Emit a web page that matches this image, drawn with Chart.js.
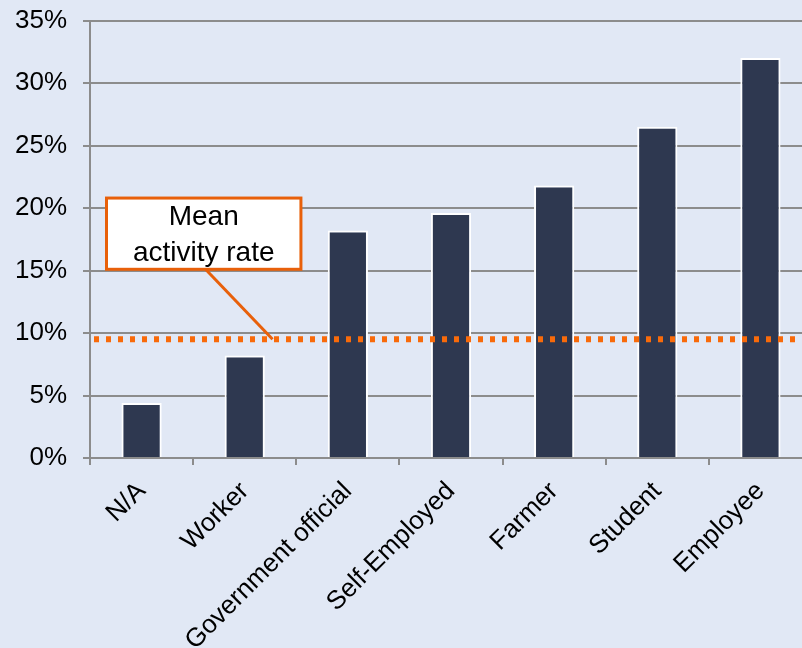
<!DOCTYPE html>
<html>
<head>
<meta charset="utf-8">
<script src="https://cdn.jsdelivr.net/npm/chart.js@4/dist/chart.umd.min.js"></script>
<style>
  html, body { margin: 0; padding: 0; overflow: hidden; background: #E1E8F5; }
  .wrap { position: relative; top: -11px; width: 812px; height: 659px; }
</style>
</head>
<body>
<div class="wrap"><canvas id="myChart"></canvas></div>
<script>
// data
const categories = ["N/A", "Worker", "Government official", "Self-Employed", "Farmer", "Student", "Employee"];
const activityRate = [4.4, 8.2, 18.2, 19.6, 21.8, 26.5, 32.0];
const meanRate = 9.5;
const yTicks = [0, 5, 10, 15, 20, 25, 30, 35];
const noteLines = ["Mean", "activity rate"];

const FONT = "'Liberation Sans', Arial, sans-serif";
const ORANGE = "#F86A0A";

// mean line + call-out box, placed in data units via the scales
const meanPlugin = {
  id: "meanLine",
  afterDatasetsDraw(chart) {
    const { ctx, chartArea, scales } = chart;
    const x = scales.x, y = scales.y;
    const yMean = y.getPixelForValue(meanRate);

    ctx.save();
    // dotted mean line
    ctx.strokeStyle = ORANGE;
    ctx.lineWidth = 6;
    ctx.setLineDash([5, 7]);
    ctx.beginPath();
    ctx.moveTo(chartArea.left + 4, yMean);
    ctx.lineTo(chartArea.right, yMean);
    ctx.stroke();
    ctx.setLineDash([]);

    // box
    const bl = x.getPixelForValue(-0.34), br = x.getPixelForValue(1.545);
    const bt = y.getPixelForValue(20.8), bb = y.getPixelForValue(15.1);

    // connector
    ctx.strokeStyle = "#E8600A";
    ctx.lineWidth = 3;
    ctx.beginPath();
    ctx.moveTo(x.getPixelForValue(0.62), bb);
    ctx.lineTo(x.getPixelForValue(1.27), yMean);
    ctx.stroke();

    ctx.fillStyle = "#ffffff";
    ctx.fillRect(bl, bt, br - bl, bb - bt);
    ctx.lineWidth = 3;
    ctx.strokeRect(bl, bt, br - bl, bb - bt);

    ctx.fillStyle = "#000";
    ctx.font = "28px " + FONT;
    ctx.textAlign = "center";
    ctx.textBaseline = "middle";
    const cx = (bl + br) / 2;
    const h = bb - bt;
    ctx.fillText(noteLines[0], cx, bt + h * 0.27);
    ctx.fillText(noteLines[1], cx, bt + h * 0.77);
    ctx.restore();
  }
};

const ctx = document.getElementById("myChart").getContext("2d");
const myChart = new Chart(ctx, {
  type: "bar",
  data: {
    labels: categories,
    datasets: [
      {
        label: "Activity rate",
        data: activityRate,
        backgroundColor: "#2E3850",
        borderColor: "#ffffff",
        borderWidth: 2,
        barPercentage: 0.39,
        categoryPercentage: 1,
      },
    ],
  },
  options: {
    responsive: true,
    maintainAspectRatio: false,
    animation: false,
    layout: { padding: { top: 11, right: 0, bottom: 0, left: 0 } },
    plugins: {
      legend: { display: false },
      tooltip: { enabled: false },
    },
    scales: {
      x: {
        grid: {
          offset: true,
          drawOnChartArea: false,
          color: "#8C8C8C",
          lineWidth: 2,
          tickLength: 7,
        },
        border: { color: "#8C8C8C", width: 2 },
        ticks: {
          color: "#000",
          font: { family: FONT, size: 26 },
          minRotation: 45,
          maxRotation: 45,
          padding: 11,
          autoSkip: false,
        },
        afterFit: (scale) => { scale.height = 190; },
      },
      y: {
        min: 0,
        max: 35,
        afterBuildTicks: (scale) => {
          scale.ticks = yTicks.map((v) => ({ value: v }));
        },
        grid: {
          color: "#8C8C8C",
          lineWidth: 2,
          tickLength: 7,
        },
        border: { color: "#8C8C8C", width: 2 },
        ticks: {
          color: "#000",
          font: { family: FONT, size: 26 },
          padding: 16,
          callback: (value) => value + "%",
        },
        afterFit: (scale) => { scale.width = 90; },
      },
    },
  },
  plugins: [meanPlugin],
});
</script>
</body>
</html>
